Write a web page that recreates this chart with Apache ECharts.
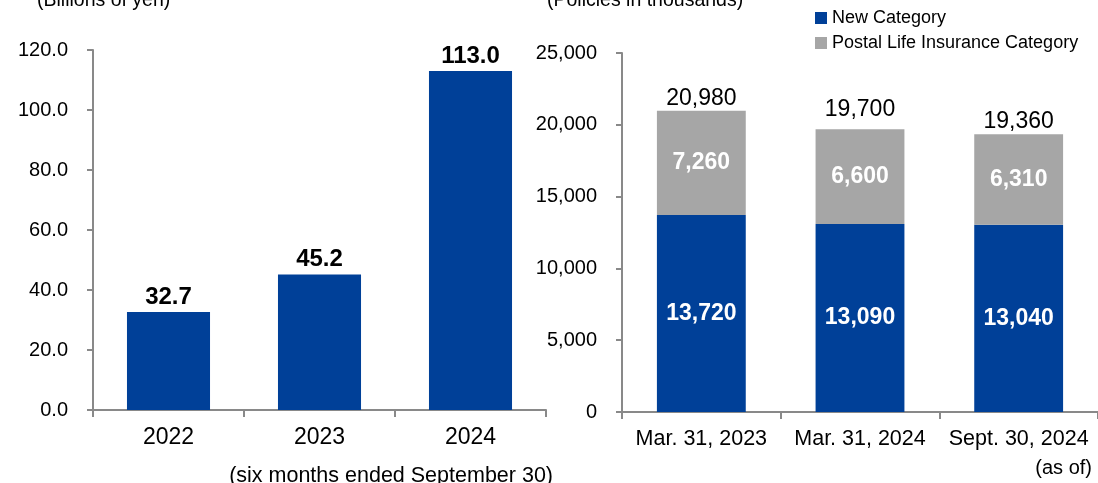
<!DOCTYPE html>
<html>
<head>
<meta charset="utf-8">
<script src="https://cdn.jsdelivr.net/npm/echarts@6/dist/echarts.min.js"></script>
<style>
html,body{margin:0;padding:0;background:#fff;}
#chart{width:1098px;height:483px;}
</style>
</head>
<body>
<div id="chart"></div>
<script>
// Left chart data
const leftCategories = ['2022', '2023', '2024'];
const leftValues = [32.7, 45.2, 113.0];
// Right chart data
const rightCategories = ['Mar. 31, 2023', 'Mar. 31, 2024', 'Sept. 30, 2024'];
const newCategory = [13720, 13090, 13040];
const postalCategory = [7260, 6600, 6310];
const totals = [20980, 19700, 19360];

const FONT = "'Liberation Sans', Arial, sans-serif";
const BLUE = '#004098';
const GRAY = '#A6A6A6';
const AXIS = '#898989';

const fmtInt = v => Number(v).toLocaleString('en-US');

const chart = echarts.init(document.getElementById('chart'), null, {renderer: 'canvas'});

function xAxisBase(fontSize) {
  return {
    type: 'category',
    axisLine: {show: true, lineStyle: {color: AXIS, width: 2}},
    axisTick: {show: true, alignWithLabel: false, length: 7, lineStyle: {color: AXIS, width: 2}},
    axisLabel: {color: '#000', fontSize: fontSize, fontFamily: FONT, margin: 16, interval: 0, hideOverlap: false},
    splitLine: {show: false}
  };
}
const axisCommonY = {
  type: 'value',
  axisLine: {show: true, lineStyle: {color: AXIS, width: 2}},
  axisTick: {show: true, length: 6, lineStyle: {color: AXIS, width: 2}},
  splitLine: {show: false}
};

// label offsets for total labels (the middle one sits higher in the reference)
const totalLabelOffsets = [[0, 0], [0, -7.5], [0, 0]];

const option = {
  animation: false,
  textStyle: {fontFamily: FONT},
  grid: [
    {left: 93, right: 552, top: 50, bottom: 73, containLabel: false},
    {left: 622, right: -6, top: 53, bottom: 71, containLabel: false}
  ],
  legend: {
    data: ['New Category', 'Postal Life Insurance Category'],
    orient: 'vertical',
    left: 810,
    top: 4,
    itemWidth: 12,
    itemHeight: 12,
    itemGap: 7,
    icon: 'rect',
    textStyle: {fontSize: 18, color: '#000', fontFamily: FONT}
  },
  xAxis: [
    Object.assign({}, xAxisBase(23), {gridIndex: 0, data: leftCategories}),
    Object.assign({}, xAxisBase(21.5), {gridIndex: 1, data: rightCategories})
  ],
  yAxis: [
    Object.assign({}, axisCommonY, {
      gridIndex: 0, min: 0, max: 120, interval: 20,
      axisLabel: {color: '#000', fontSize: 20, fontFamily: FONT, margin: 25, formatter: v => v.toFixed(1)}
    }),
    Object.assign({}, axisCommonY, {
      gridIndex: 1, min: 0, max: 25000, interval: 5000,
      axisLabel: {color: '#000', fontSize: 20, fontFamily: FONT, margin: 25, formatter: fmtInt}
    })
  ],
  series: [
    {
      name: 'Left', type: 'bar', xAxisIndex: 0, yAxisIndex: 0,
      data: leftValues, barWidth: '55%',
      itemStyle: {color: BLUE},
      label: {show: true, position: 'top', distance: 3, color: '#000', fontSize: 24, fontWeight: 'bold', fontFamily: FONT,
        formatter: p => Number(p.value).toFixed(1)}
    },
    {
      name: 'New Category', type: 'bar', xAxisIndex: 1, yAxisIndex: 1, stack: 'r',
      data: newCategory, barWidth: '56%',
      itemStyle: {color: BLUE},
      label: {show: true, position: 'inside', color: '#fff', fontSize: 23, fontWeight: 'bold', fontFamily: FONT,
        formatter: p => fmtInt(p.value)}
    },
    {
      name: 'Postal Life Insurance Category', type: 'bar', xAxisIndex: 1, yAxisIndex: 1, stack: 'r',
      data: postalCategory, barWidth: '56%',
      itemStyle: {color: GRAY},
      label: {show: true, position: 'inside', color: '#fff', fontSize: 23, fontWeight: 'bold', fontFamily: FONT,
        formatter: p => fmtInt(p.value)}
    },
    {
      name: 'Total', type: 'bar', xAxisIndex: 1, yAxisIndex: 1, stack: 'r',
      data: totals.map((t, i) => ({value: 0, label: {offset: totalLabelOffsets[i]}})),
      barWidth: '56%',
      itemStyle: {color: 'rgba(0,0,0,0)'},
      label: {show: true, position: 'top', distance: 1, color: '#000', fontSize: 23, fontFamily: FONT,
        formatter: p => fmtInt(totals[p.dataIndex])}
    }
  ],
  graphic: [
    {type: 'text', left: 37, top: -9, style: {text: '(Billions of yen)', fontSize: 19.5, fontFamily: FONT, fill: '#000'}},
    {type: 'text', left: 547, top: -9, style: {text: '(Policies in thousands)', fontSize: 19.5, fontFamily: FONT, fill: '#000'}},
    {type: 'text', right: 545, top: 465, style: {text: '(six months ended September 30)', fontSize: 21.5, fontFamily: FONT, fill: '#000'}},
    {type: 'text', right: 6, top: 458, style: {text: '(as of)', fontSize: 20, fontFamily: FONT, fill: '#000'}}
  ]
};
chart.setOption(option);
</script>
</body>
</html>
